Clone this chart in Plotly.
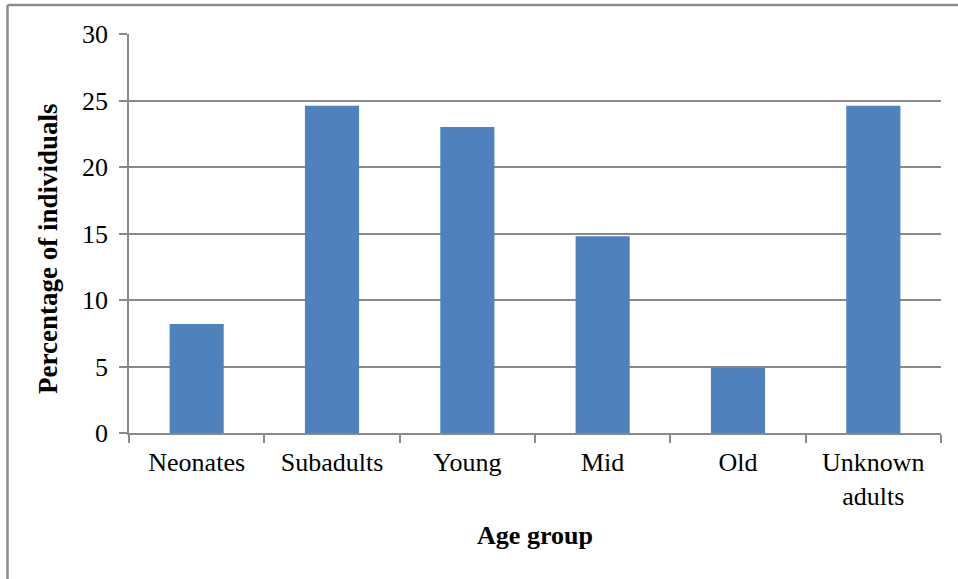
import plotly.graph_objects as go

# Age-group distribution (percentage of individuals)
categories = ["Neonates", "Subadults", "Young", "Mid", "Old", "Unknown<br>adults"]
percentages = [8.2, 24.6, 23.0, 14.8, 4.9, 24.6]
y_ticks = [0, 5, 10, 15, 20, 25, 30]

SERIF = "Liberation Serif"
GRID = "#8a8a8a"

fig = go.Figure(
    go.Bar(
        x=categories,
        y=percentages,
        marker=dict(color="#4F81BD", line=dict(width=0)),
        width=0.4,
    )
)

fig.update_layout(
    width=958,
    height=579,
    margin=dict(l=129, r=17, t=34, b=146),
    paper_bgcolor="white",
    plot_bgcolor="white",
    showlegend=False,
    font=dict(family=SERIF, size=26, color="black"),
    xaxis=dict(
        type="category",
        showline=True,
        linecolor=GRID,
        linewidth=1.5,
        ticks="outside",
        tickson="boundaries",
        ticklen=8,
        tickcolor=GRID,
        tickwidth=1.5,
        showgrid=False,
        tickfont=dict(family=SERIF, size=26),
        ticklabelstandoff=5,
        title=dict(text="<b>Age group</b>", font=dict(family=SERIF, size=26), standoff=16),
    ),
    yaxis=dict(
        range=[0, 30],
        tickvals=y_ticks,
        showline=True,
        linecolor=GRID,
        linewidth=1.5,
        ticks="outside",
        ticklen=8,
        tickcolor=GRID,
        tickwidth=1.5,
        showgrid=True,
        gridcolor=GRID,
        gridwidth=1.5,
        zeroline=False,
        tickfont=dict(family=SERIF, size=26),
        ticklabelstandoff=6,
    ),
)

# Vertical axis title, placed slightly below the plot's midpoint
fig.add_annotation(
    text="<b>Percentage of individuals</b>",
    textangle=-90,
    xref="paper", yref="paper",
    x=(48 - 129) / 812, y=(433 - 249) / 399,
    xanchor="center", yanchor="middle",
    showarrow=False,
    font=dict(family=SERIF, size=27, color="black"),
)

# Outer chart frame (top and left edges visible within the page)
x_left = (7.5 - 129) / 812
y_top = (433 - 5) / 399
fig.add_shape(type="line", xref="paper", yref="paper",
              x0=x_left, x1=1.2, y0=y_top, y1=y_top,
              line=dict(color="#8c8c8c", width=2.5))
fig.add_shape(type="line", xref="paper", yref="paper",
              x0=x_left, x1=x_left, y0=y_top, y1=-0.5,
              line=dict(color="#8c8c8c", width=2.5))

fig.write_html("out.html")
